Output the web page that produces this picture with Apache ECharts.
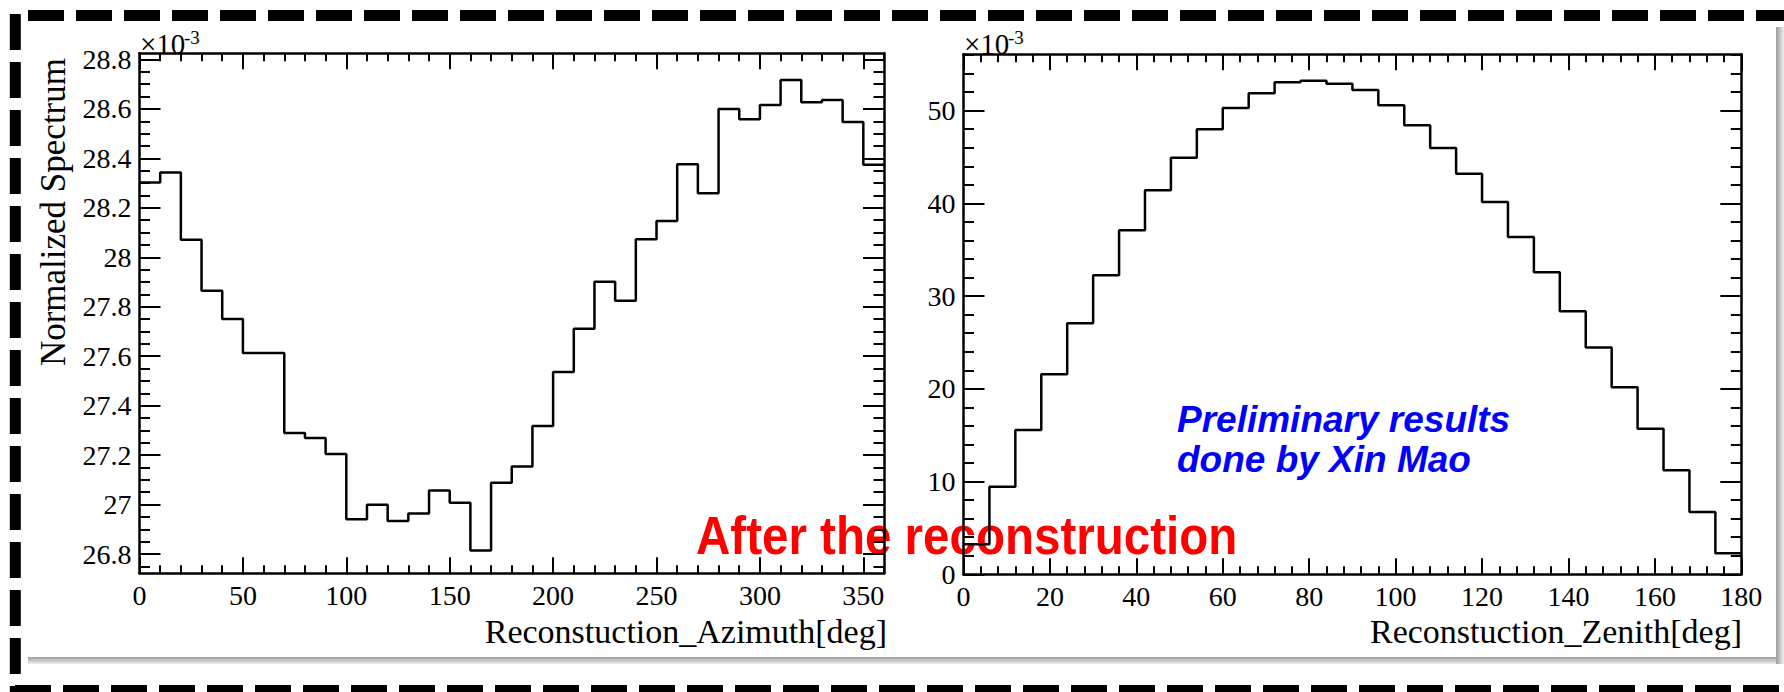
<!DOCTYPE html>
<html>
<head>
<meta charset="utf-8">
<script src="https://cdn.jsdelivr.net/npm/echarts@6/dist/echarts.min.js"></script>
<style>
  html, body { margin: 0; padding: 0; background: #ffffff; }
  #chart { width: 1784px; height: 692px; }
</style>
</head>
<body>
<div id="chart"></div>
<script>
// Reconstructed azimuth: 36 bins of 10 deg, normalized spectrum (x10^-3)
const azimuthEdges = [0, 10, 20, 30, 40, 50, 60, 70, 80, 90, 100, 110, 120, 130, 140, 150, 160, 170, 180,
  190, 200, 210, 220, 230, 240, 250, 260, 270, 280, 290, 300, 310, 320, 330, 340, 350, 360];
const azimuthValues = [28.302, 28.343, 28.071, 27.865, 27.750, 27.613, 27.613, 27.289, 27.269, 27.204,
  26.941, 26.999, 26.934, 26.964, 27.057, 27.007, 26.814, 27.088, 27.154, 27.318,
  27.536, 27.711, 27.901, 27.824, 28.073, 28.147, 28.376, 28.259, 28.600, 28.558,
  28.616, 28.717, 28.627, 28.636, 28.547, 28.374];

// Reconstructed zenith: 30 bins of 6 deg, normalized spectrum (x10^-3)
const zenithEdges = [0, 6, 12, 18, 24, 30, 36, 42, 48, 54, 60, 66, 72, 78, 84, 90, 96, 102, 108, 114,
  120, 126, 132, 138, 144, 150, 156, 162, 168, 174, 180];
const zenithValues = [3.24, 9.45, 15.56, 21.57, 27.07, 32.25, 37.10, 41.42, 44.93, 47.99,
  50.29, 51.88, 53.06, 53.24, 52.91, 52.23, 50.58, 48.43, 45.98, 43.21,
  40.15, 36.38, 32.57, 28.36, 24.46, 20.17, 15.70, 11.22, 6.72, 2.26];

// Tick labels
const azimuthTicks = [0, 50, 100, 150, 200, 250, 300, 350];
const azimuthSpectrumTicks = [26.8, 27, 27.2, 27.4, 27.6, 27.8, 28, 28.2, 28.4, 28.6, 28.8];
const zenithTicks = [0, 20, 40, 60, 80, 100, 120, 140, 160, 180];
const zenithSpectrumTicks = [0, 10, 20, 30, 40, 50];

const SERIF = '"Liberation Serif", "Times New Roman", serif';
const SANS = '"Liberation Sans", Arial, sans-serif';

// Histogram outline: one point per lower bin edge plus the closing upper edge
function stepPoints(edges, values) {
  const pts = values.map((v, i) => [edges[i], v]);
  pts.push([edges[edges.length - 1], values[values.length - 1]]);
  return pts;
}

// Minor tick positions at a fixed spacing inside [lo, hi]
function minorTicks(lo, hi, step) {
  const out = [];
  for (let k = Math.ceil(lo / step - 1e-9); k * step <= hi + 1e-9; k++) {
    out.push(+(k * step).toFixed(6));
  }
  return out;
}

const panels = [
  {
    rect: { left: 139.5, top: 53.3, width: 744.5, height: 520 },
    xRange: [0, 360], yRange: [26.722, 28.825],
    xMajor: azimuthTicks, xMinorStep: 10,
    yMajor: azimuthSpectrumTicks, yMinorStep: 0.05,
    edges: azimuthEdges, values: azimuthValues
  },
  {
    rect: { left: 963.5, top: 54.3, width: 777.8, height: 520 },
    xRange: [0, 180], yRange: [0, 56.08],
    xMajor: zenithTicks, xMinorStep: 4,
    yMajor: zenithSpectrumTicks, yMinorStep: 2,
    edges: zenithEdges, values: zenithValues
  }
];

const grid = [], xAxis = [], yAxis = [], series = [];

function makeAxis(gridIndex, position, range, ticks, tickLen, showLine, showLabels, margin) {
  return {
    type: 'value', gridIndex, position,
    min: range[0], max: range[1], z: 5,
    splitLine: { show: false },
    axisLine: { show: showLine, onZero: false, lineStyle: { color: '#000', width: 2.5 } },
    axisTick: { show: true, inside: true, length: tickLen, customValues: ticks,
      lineStyle: { color: '#000', width: 2 } },
    axisLabel: { show: showLabels, customValues: ticks, margin: margin,
      color: '#000', fontFamily: SERIF, fontSize: 28, formatter: v => String(v) }
  };
}

panels.forEach(p => {
  const base = grid.length;
  for (let k = 0; k < 4; k++) {
    grid.push(Object.assign({ containLabel: false, outerBoundsMode: 'none', show: false }, p.rect));
  }
  const xMinor = minorTicks(p.xRange[0], p.xRange[1], p.xMinorStep);
  const yMinor = minorTicks(p.yRange[0], p.yRange[1], p.yMinorStep);
  // frame with major ticks and labels (bottom / left)
  xAxis.push(makeAxis(base, 'bottom', p.xRange, p.xMajor, 16, true, true, 8));
  yAxis.push(makeAxis(base, 'left', p.yRange, p.yMajor, 21, true, true, 8));
  // frame with major ticks (top / right)
  xAxis.push(makeAxis(base + 1, 'top', p.xRange, p.xMajor, 16, true, false, 8));
  yAxis.push(makeAxis(base + 1, 'right', p.yRange, p.yMajor, 21, true, false, 8));
  // minor ticks (bottom / left)
  xAxis.push(makeAxis(base + 2, 'bottom', p.xRange, xMinor, 8, false, false, 8));
  yAxis.push(makeAxis(base + 2, 'left', p.yRange, yMinor, 10.5, false, false, 8));
  // minor ticks (top / right)
  xAxis.push(makeAxis(base + 3, 'top', p.xRange, xMinor, 8, false, false, 8));
  yAxis.push(makeAxis(base + 3, 'right', p.yRange, yMinor, 10.5, false, false, 8));

  series.push({
    type: 'line', xAxisIndex: base, yAxisIndex: base,
    step: 'end', showSymbol: false, symbol: 'none', clip: true, z: 6,
    lineStyle: { color: '#000', width: 2.5 },
    data: stepPoints(p.edges, p.values)
  });
});

const dash = { stroke: '#000', lineWidth: 11, lineDash: [36, 12], lineCap: 'butt' };

const graphics = [
  // slide panel shadow
  { type: 'rect', z: 0, shape: { x: 1776, y: 27, width: 8, height: 637 },
    style: { fill: new echarts.graphic.LinearGradient(0, 0, 1, 0,
      [{ offset: 0, color: '#9c9c9c' }, { offset: 1, color: '#efefef' }]) } },
  { type: 'rect', z: 0, shape: { x: 28, y: 657, width: 1748, height: 7 },
    style: { fill: new echarts.graphic.LinearGradient(0, 0, 0, 1,
      [{ offset: 0, color: '#9c9c9c' }, { offset: 1, color: '#efefef' }]) } },
  // dashed slide border
  { type: 'line', z: 1, shape: { x1: 28, y1: 15.5, x2: 1800, y2: 15.5 }, style: dash },
  { type: 'line', z: 1, shape: { x1: 15.3, y1: 14, x2: 15.3, y2: 700 }, style: dash },
  { type: 'line', z: 1, shape: { x1: 15, y1: 690.5, x2: 1800, y2: 690.5 }, style: dash },
  // exponent markers
  { type: 'text', z: 3, x: 140, y: 44,
    style: { text: '\u00d710', font: '29px ' + SERIF, fill: '#000', textAlign: 'left', textVerticalAlign: 'middle' } },
  { type: 'text', z: 3, x: 184, y: 37,
    style: { text: '-3', font: '19px ' + SERIF, fill: '#000', textAlign: 'left', textVerticalAlign: 'middle' } },
  { type: 'text', z: 3, x: 964, y: 44,
    style: { text: '\u00d710', font: '29px ' + SERIF, fill: '#000', textAlign: 'left', textVerticalAlign: 'middle' } },
  { type: 'text', z: 3, x: 1008, y: 37,
    style: { text: '-3', font: '19px ' + SERIF, fill: '#000', textAlign: 'left', textVerticalAlign: 'middle' } },
  // axis titles
  { type: 'text', z: 3, x: 53, y: 58, rotation: Math.PI / 2,
    style: { text: 'Normalized Spectrum', font: '35px ' + SERIF, fill: '#000', textAlign: 'right', textVerticalAlign: 'middle' } },
  { type: 'text', z: 3, x: 887, y: 631,
    style: { text: 'Reconstuction_Azimuth[deg]', font: '34px ' + SERIF, fill: '#000', textAlign: 'right', textVerticalAlign: 'middle' } },
  { type: 'text', z: 3, x: 1742, y: 631,
    style: { text: 'Reconstuction_Zenith[deg]', font: '34px ' + SERIF, fill: '#000', textAlign: 'right', textVerticalAlign: 'middle' } },
  // annotations
  { type: 'text', z: 2, x: 1177, y: 419,
    style: { text: 'Preliminary results', font: 'italic bold 37px ' + SANS, fill: '#0000ff', textAlign: 'left', textVerticalAlign: 'middle' } },
  { type: 'text', z: 2, x: 1177, y: 459,
    style: { text: 'done by Xin Mao', font: 'italic bold 37px ' + SANS, fill: '#0000ff', textAlign: 'left', textVerticalAlign: 'middle' } },
  { type: 'text', z: 2, x: 696, y: 535, scaleX: 0.88,
    style: { text: 'After the reconstruction', font: 'bold 54px ' + SANS, fill: '#ff0000', textAlign: 'left', textVerticalAlign: 'middle' } }
];

const chart = echarts.init(document.getElementById('chart'), null, { renderer: 'svg' });
chart.setOption({
  backgroundColor: '#ffffff',
  animation: false,
  grid, xAxis, yAxis, series,
  graphic: { elements: graphics }
});
</script>
</body>
</html>
